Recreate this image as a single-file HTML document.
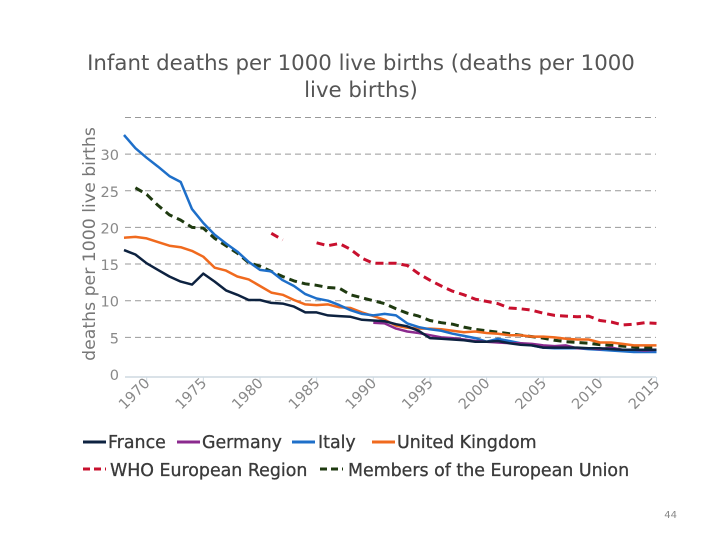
<!DOCTYPE html>
<html><head><meta charset="utf-8"><style>
html,body{margin:0;padding:0;background:#fff;width:720px;height:540px;overflow:hidden;font-family:"DejaVu Sans",sans-serif}
svg text{font-family:"DejaVu Sans",sans-serif}
</style></head><body>
<svg id="chart" width="720" height="540" xmlns="http://www.w3.org/2000/svg">
<text x="361" y="70" text-anchor="middle" font-size="21.3" fill="#555">Infant deaths per 1000 live births (deaths per 1000</text>
<text x="361" y="97" text-anchor="middle" font-size="21.3" fill="#555">live births)</text>
<text transform="translate(95,244) rotate(-90)" text-anchor="middle" font-size="17.3" fill="#777">deaths per 1000 live births</text>
<g id="grid"></g><g id="series"></g><g id="xaxis"></g>
<g font-size="17.4" fill="#3a3a3a" stroke="#3a3a3a" stroke-width="0.3">
<g><line x1="83" y1="442" x2="106" y2="442" stroke="#0d2240" stroke-width="3"/><text x="108" y="448">France</text></g>
<g><line x1="177" y1="442" x2="200" y2="442" stroke="#8b2a8e" stroke-width="3"/><text x="202" y="448">Germany</text></g>
<g><line x1="292" y1="442" x2="315" y2="442" stroke="#1e6fc9" stroke-width="3"/><text x="318" y="448">Italy</text></g>
<g><line x1="372" y1="442" x2="395" y2="442" stroke="#f06a1e" stroke-width="3"/><text x="397" y="448">United Kingdom</text></g>
<g><line x1="83" y1="469" x2="106" y2="469" stroke="#c8102e" stroke-width="3" stroke-dasharray="7,4"/><text x="110" y="476">WHO European Region</text></g>
<g><line x1="320" y1="469" x2="343" y2="469" stroke="#1f3a10" stroke-width="3" stroke-dasharray="7,4"/><text x="348" y="476">Members of the European Union</text></g>
</g>
<text x="677" y="518" text-anchor="end" font-size="10" fill="#888">44</text>
</svg>
<script>
const yTicks=[0,5,10,15,20,25,30,35];
const xTicks=[1970,1975,1980,1985,1990,1995,2000,2005,2010,2015];
const years=[];for(let y=1968;y<=2015;y++)years.push(y);
const france=[16.9,16.3,15.1,14.2,13.3,12.6,12.2,13.7,12.6,11.4,10.8,10.1,10.1,9.7,9.6,9.2,8.4,8.4,8.0,7.9,7.8,7.4,7.3,7.2,6.8,6.5,5.9,4.9,4.8,4.7,4.6,4.4,4.4,4.5,4.2,4.0,3.9,3.6,3.6,3.6,3.6,3.5,3.5,3.4,3.3,3.3,3.3,3.3];
const germany=[null,null,null,null,null,null,null,null,null,null,null,null,null,null,null,null,null,null,null,null,null,null,7.0,6.9,6.2,5.8,5.6,5.3,5.0,4.9,4.7,4.5,4.4,4.3,4.2,4.2,4.1,3.9,3.8,3.9,3.5,3.5,3.4,3.6,3.3,3.3,3.2,3.3];
const italy=[32.6,30.8,29.5,28.3,27.0,26.2,22.5,20.6,19.0,17.8,16.7,15.3,14.2,14.0,12.8,12.0,10.9,10.3,10.0,9.4,8.7,8.2,8.0,8.2,8.0,6.9,6.4,6.1,5.9,5.5,5.2,4.9,4.4,4.8,4.5,4.2,3.9,3.6,3.5,3.5,3.5,3.4,3.3,3.2,3.1,3.0,3.0,3.0];
const uk=[18.6,18.7,18.5,18.0,17.5,17.3,16.8,16.0,14.5,14.1,13.3,12.9,12.0,11.1,10.8,10.1,9.5,9.4,9.5,9.1,9.0,8.4,7.9,7.4,6.6,6.3,6.2,6.2,6.1,5.9,5.7,5.8,5.6,5.5,5.3,5.3,5.1,5.1,5.0,4.8,4.7,4.7,4.3,4.3,4.1,3.9,3.9,3.9];
const who=[null,null,null,null,null,null,null,null,null,null,null,null,null,19.2,18.3,null,null,17.9,17.5,17.8,17.0,15.8,15.1,15.1,15.1,14.8,13.7,12.8,12.0,11.3,10.8,10.2,9.9,9.6,9.0,8.9,8.7,8.3,8.0,7.9,7.8,7.9,7.3,7.1,6.7,6.8,7.0,6.9];
const eu=[null,25.4,24.5,23.0,21.7,21.0,20.0,19.9,18.5,17.5,16.5,15.2,14.7,14.0,13.3,12.7,12.3,12.1,11.8,11.7,10.8,10.4,10.0,9.6,8.9,8.3,7.9,7.3,7.0,6.8,6.4,6.1,5.9,5.7,5.5,5.3,5.1,4.9,4.6,4.4,4.3,4.2,4.0,3.9,3.8,3.7,3.6,3.6];
const NS='http://www.w3.org/2000/svg';
const X=y=>146.7+(y-1970)*11.33;
const Y=v=>374-v*7.33;
function mk(t,a,p){const e=document.createElementNS(NS,t);for(const k in a)e.setAttribute(k,a[k]);p.appendChild(e);return e;}
const grid=document.getElementById('grid');
yTicks.forEach(v=>{
  const l=mk('line',{x1:125,x2:656,y1:Y(v),y2:Y(v),stroke:v===0?'none':'#999','stroke-dasharray':'6,4','stroke-width':1},grid);
  
  
  if(v<35){const t=mk('text',{x:119,y:Y(v)+6,'text-anchor':'end','font-size':14.5,fill:'#888'},grid);t.textContent=v;
  
  }
});
const xa=document.getElementById('xaxis');
const base=mk('line',{x1:125,x2:656,y1:377,y2:377,stroke:'#cdd8e0','stroke-width':1.5},xa);


xTicks.forEach(v=>{
  const tk=mk('line',{x1:X(v),x2:X(v),y1:377,y2:382,stroke:'#cdd8e0'},xa);
  
  
  const t=mk('text',{x:X(v)+4,y:384,'text-anchor':'end','font-size':14.5,fill:'#888',transform:`rotate(-45 ${X(v)+4} 384)`},xa);t.textContent=v;
  
  
});
const sg=document.getElementById('series');
function draw(vals,color,dash,name){
  let d='',pen=false;
  vals.forEach((v,i)=>{if(v==null){pen=false;return;}d+=(pen?'L':'M')+X(years[i]).toFixed(1)+' '+Y(v).toFixed(1);pen=true;});
  const p=mk('path',{d:d,fill:'none',stroke:color,'stroke-width':dash?3:2.5,'stroke-dasharray':dash?'8,5':'none','stroke-linejoin':'round'},sg);
  
  
}
draw(eu,'#1f3a10',true,'series-eu');
draw(who,'#c8102e',true,'series-who-europe');
draw(uk,'#f06a1e',false,'series-uk');
draw(italy,'#1e6fc9',false,'series-italy');
draw(germany,'#8b2a8e',false,'series-germany');
draw(france,'#0d2240',false,'series-france');
</script>
</body></html>
